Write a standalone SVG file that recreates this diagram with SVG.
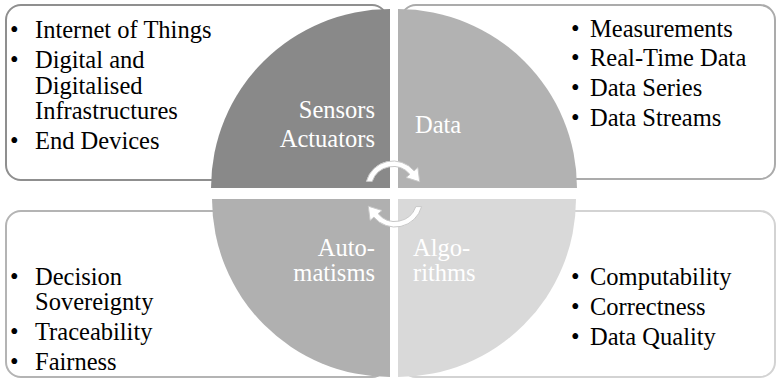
<svg xmlns="http://www.w3.org/2000/svg" width="778" height="379" viewBox="0 0 778 379">
<style>
.box{fill:#fff;stroke-width:2}
.t{font-family:'Liberation Serif','Times New Roman',serif;font-size:24.5px;fill:#000}
.q{font-family:'Liberation Serif','Times New Roman',serif;font-size:24.5px;fill:#fff}
.arr{fill:#fff;stroke:#c8c8c8;stroke-width:1}
</style>
<rect width="778" height="379" fill="#fff"/>
<g id="box-tl"><rect class="box" x="6" y="5" width="381" height="175" rx="15" stroke="#8f8f8f"/></g>
<g id="box-tr"><rect class="box" x="401" y="5" width="374" height="174" rx="15" stroke="#ababab"/></g>
<g id="box-bl"><rect class="box" x="6" y="211" width="381" height="166" rx="15" stroke="#b4b4b4"/></g>
<g id="box-br"><rect class="box" x="401" y="211" width="374" height="166" rx="15" stroke="#d3d3d3"/></g>

<g id="q-sensors">
<path d="M390 188 L211 188 A179 179 0 0 1 390 9 Z" fill="#898989"/>
<text class="q" x="375" y="118" text-anchor="end">Sensors</text>
<text class="q" x="375" y="147" text-anchor="end">Actuators</text>
</g>
<g id="q-data">
<path d="M398 188 L398 9 A179 179 0 0 1 577 188 Z" fill="#b2b2b2"/>
<text class="q" x="415" y="133">Data</text>
</g>
<g id="q-auto">
<path d="M390 199 L390 377 A178 178 0 0 1 212 199 Z" fill="#b0b0b0"/>
<text class="q" x="375" y="256" text-anchor="end">Auto-</text>
<text class="q" x="375" y="281" text-anchor="end">matisms</text>
</g>
<g id="q-algo">
<path d="M398 199 L576 199 A178 178 0 0 1 398 377 Z" fill="#d9d9d9"/>
<text class="q" x="413" y="256">Algo-</text>
<text class="q" x="413" y="281">rithms</text>
</g>

<g id="connectors">
<path class="arr" d="M366.4 181.4 A27.5 27.5 0 0 1 414.07 170.82 L417.9 167.6 L419.7 181.8 L406.02 177.57 L409.85 174.36 A22 22 0 0 0 372.2 181.4 Z"/>
<path class="arr" transform="rotate(180 394 194)" d="M366.4 181.4 A27.5 27.5 0 0 1 414.07 170.82 L417.9 167.6 L419.7 181.8 L406.02 177.57 L409.85 174.36 A22 22 0 0 0 372.2 181.4 Z"/>
</g>

<g id="list-tl">
<text class="t" x="10" y="38">•</text><text class="t" x="35" y="38">Internet of Things</text>
<text class="t" x="10" y="68">•</text><text class="t" x="35" y="68">Digital and</text>
<text class="t" x="35" y="94">Digitalised</text>
<text class="t" x="35" y="119">Infrastructures</text>
<text class="t" x="10" y="149">•</text><text class="t" x="35" y="149">End Devices</text>
</g>
<g id="list-tr">
<text class="t" x="571" y="37">•</text><text class="t" x="590" y="37">Measurements</text>
<text class="t" x="571" y="66">•</text><text class="t" x="590" y="66">Real-Time Data</text>
<text class="t" x="571" y="96">•</text><text class="t" x="590" y="96">Data Series</text>
<text class="t" x="571" y="126">•</text><text class="t" x="590" y="126">Data Streams</text>
</g>
<g id="list-bl">
<text class="t" x="10" y="285">•</text><text class="t" x="35" y="285">Decision</text>
<text class="t" x="35" y="310">Sovereignty</text>
<text class="t" x="10" y="340">•</text><text class="t" x="35" y="340">Traceability</text>
<text class="t" x="10" y="370">•</text><text class="t" x="35" y="370">Fairness</text>
</g>
<g id="list-br">
<text class="t" x="571" y="285">•</text><text class="t" x="590" y="285">Computability</text>
<text class="t" x="571" y="315">•</text><text class="t" x="590" y="315">Correctness</text>
<text class="t" x="571" y="345">•</text><text class="t" x="590" y="345">Data Quality</text>
</g>
</svg>
